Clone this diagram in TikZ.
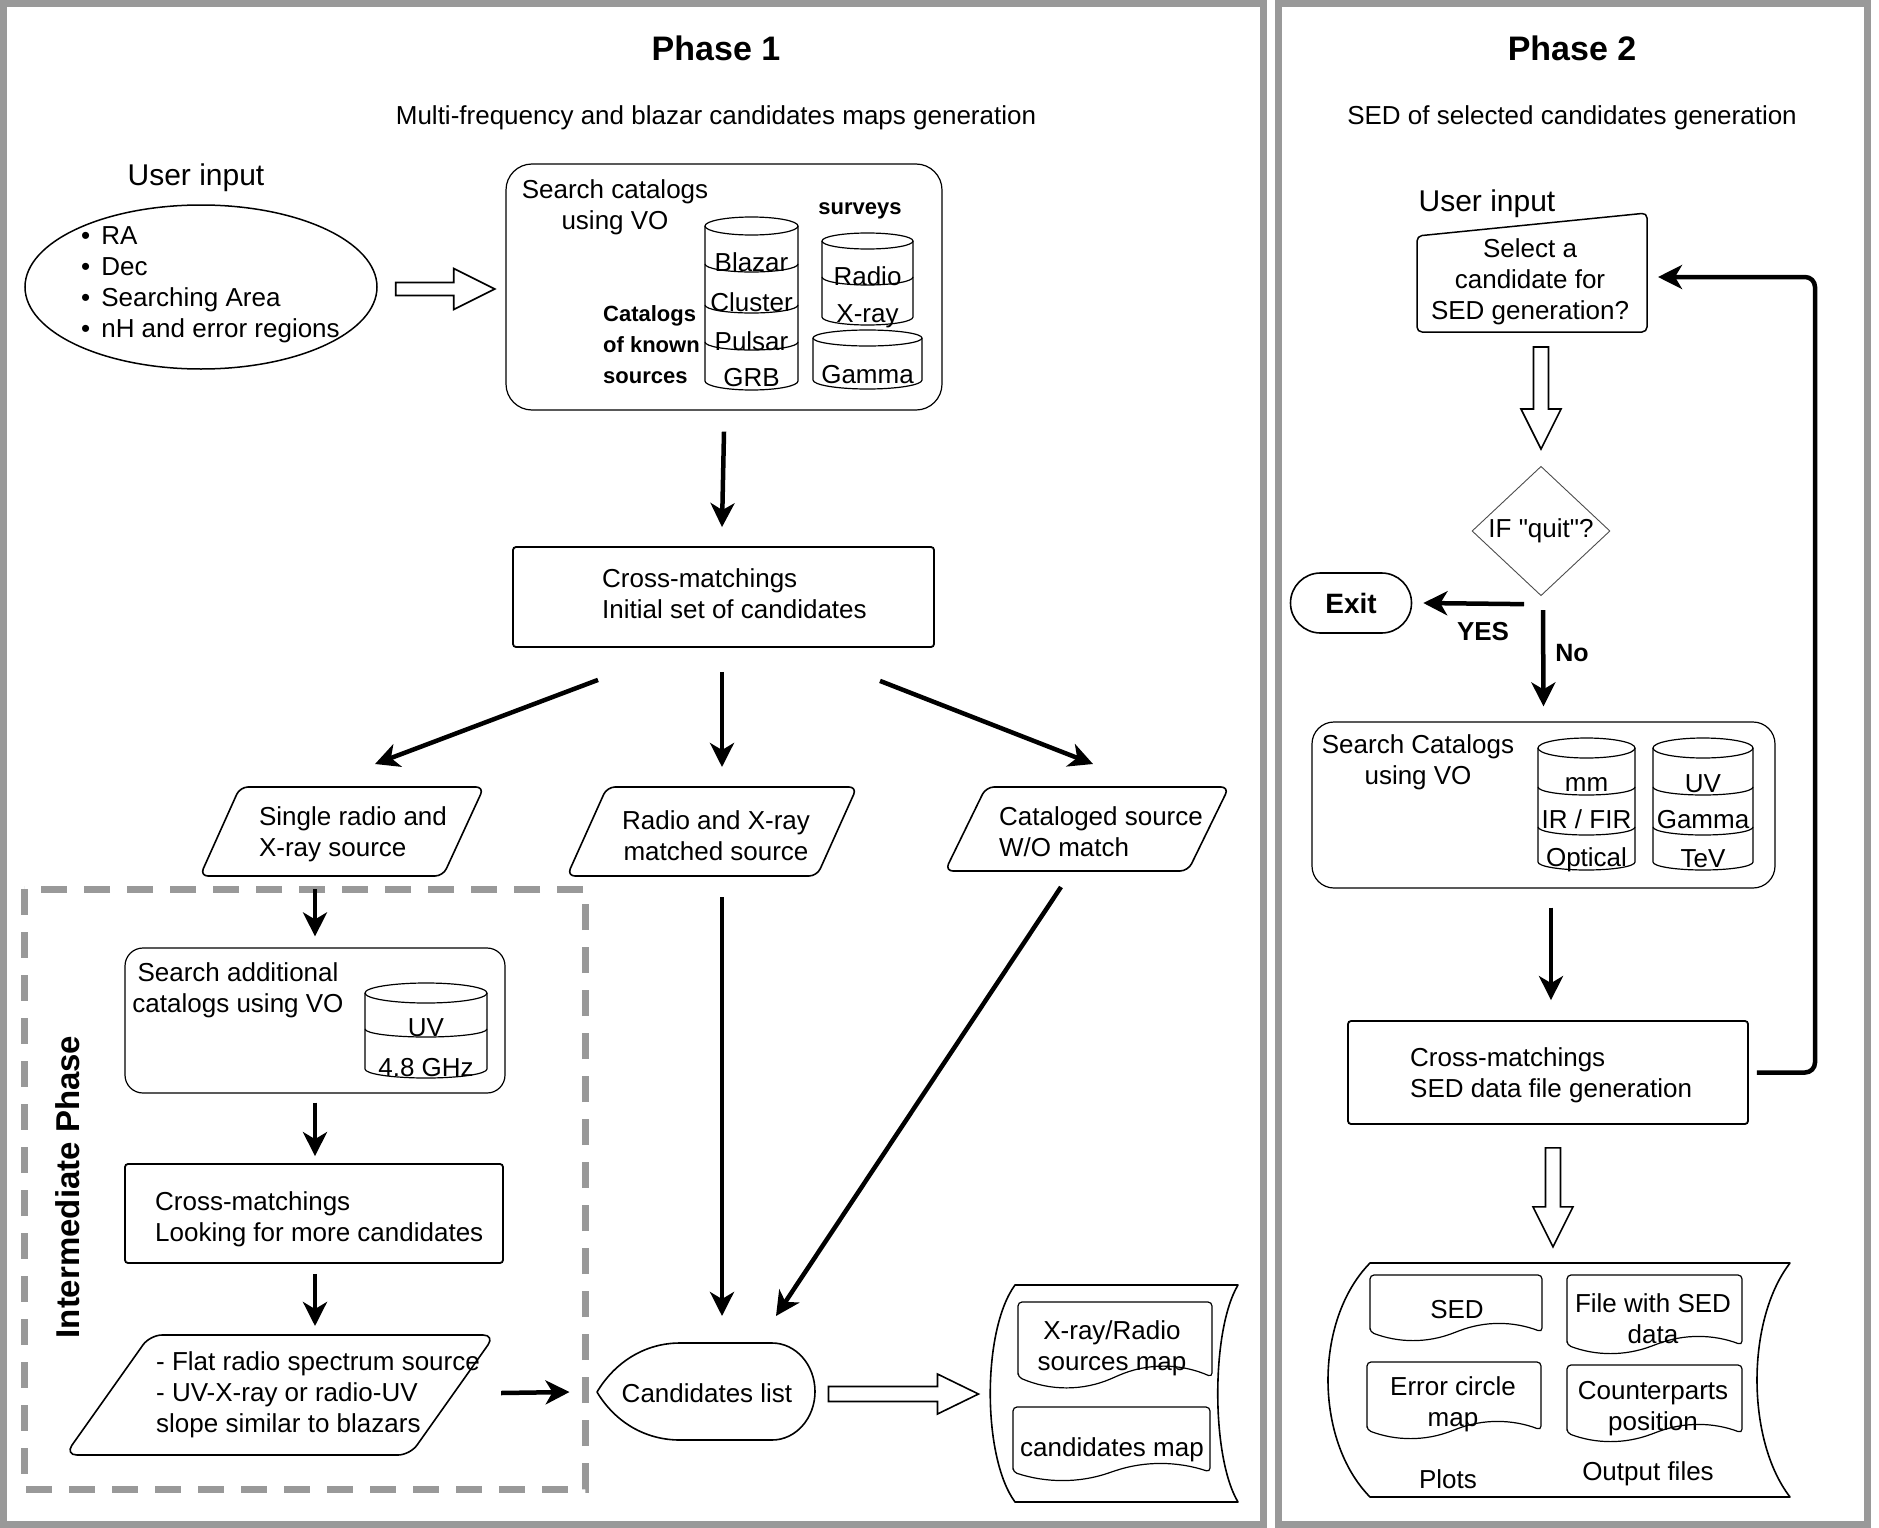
\documentclass[tikz,border=0pt]{standalone}
\usepackage{fontspec}
\setmainfont{Liberation Sans}
\usetikzlibrary{arrows.meta,shapes.geometric,positioning}

\begin{document}
\begin{tikzpicture}[x=1pt, y=-1pt,
    every node/.style={inner sep=0pt, font=\fontsize{26}{31}\selectfont},
    phaseframe/.style={draw=black!40, line width=7pt},
    interframe/.style={draw=black!40, line width=7pt, dash pattern=on 26pt off 17pt},
    block/.style={rectangle, draw, line width=1.8pt, rounded corners=3pt},
    roundblock/.style={rectangle, draw, line width=1.2pt, rounded corners=26pt},
    shapeline/.style={draw, line width=1.6pt, line join=round},
    cyl/.style={draw, line width=1.2pt},
    doc/.style={draw, line width=1.2pt, rounded corners=4pt},
    hollow/.style={draw, line width=1.6pt, line join=miter},
    arrow/.style={-{Stealth[length=24pt, width=24pt, inset=7pt]}, line width=4.5pt},
    titletext/.style={font=\bfseries\fontsize{34}{40}\selectfont},
    boldtext/.style={font=\bfseries\fontsize{22}{31}\selectfont},
    bigtext/.style={font=\fontsize{30}{36}\selectfont}
]
\useasboundingbox (0,0) rectangle (1879,1528);

% Frames
\draw[phaseframe] (3.5,3.5) rectangle (1263.5,1524.5);
\draw[phaseframe] (1278,3.5) rectangle (1867.5,1524.5);

% Phase 1
\node[titletext] (ph1) at (716,48) {Phase 1};
\node (ph1sub) at (716,118) {Multi-frequency and blazar candidates maps generation};

% User input
\node[bigtext] (uinlabel) at (196,178) {User input};
\node[ellipse, draw, line width=1.5pt, minimum width=352pt, minimum height=164pt] (uin) at (201,287) {};
\node[anchor=west, align=left] (uinitems) at (81,285)
  {\textbullet\hspace{11pt}RA\\ \textbullet\hspace{11pt}Dec\\ \textbullet\hspace{11pt}Searching Area\\ \textbullet\hspace{11pt}nH and error regions};
\draw[hollow] ([shift={(18,-4.5)}]uin.east) -- ++(58,0) -- ++(0,-14) -- ++(41,20.5) -- ++(-41,20.5) -- ++(0,-14) -- ++(-58,0) -- cycle;

% Search catalogs
\node[roundblock, minimum width=436pt, minimum height=246pt] (search) at (724,287) {};
\node[align=center] (searchtxt) at (615,207) {Search catalogs\\using VO};
\node[boldtext] (surveys) at (860,211) {surveys};
\node[boldtext, anchor=west, align=left] (known) at (603,345) {Catalogs\\of known\\sources};

\draw[cyl] (705,226) -- (705,381) arc[start angle=180, end angle=360, x radius=46.5pt, y radius=9pt] -- (798,226);
\draw[cyl] (751.5,226) ellipse[x radius=46.5pt, y radius=9pt];
\draw[cyl] (705,264) arc[start angle=180, end angle=360, x radius=46.5pt, y radius=8pt];
\draw[cyl] (705,305) arc[start angle=180, end angle=360, x radius=46.5pt, y radius=8pt];
\draw[cyl] (705,342) arc[start angle=180, end angle=360, x radius=46.5pt, y radius=8pt];
\node (blazar) at (751.5,262) {Blazar};
\node (cluster) at (751.5,302) {Cluster};
\node (pulsar) at (751.5,341) {Pulsar};
\node (grb) at (751.5,378) {GRB};

\draw[cyl] (822,241) -- (822,317) arc[start angle=180, end angle=360, x radius=45.5pt, y radius=8pt] -- (913,241);
\draw[cyl] (867.5,241) ellipse[x radius=45.5pt, y radius=8pt];
\draw[cyl] (822,277) arc[start angle=180, end angle=360, x radius=45.5pt, y radius=8pt];
\node (radio) at (867.5,276) {Radio};
\node (xray) at (867.5,316) {X-ray};

\draw[cyl] (813,338) -- (813,380) arc[start angle=180, end angle=360, x radius=54.5pt, y radius=9pt] -- (922,338);
\draw[cyl] (867.5,338) ellipse[x radius=54.5pt, y radius=8pt];
\node (gamma) at (867.5,375) {Gamma};

% Cross-matchings
\node[block, minimum width=421pt, minimum height=100pt] (cm) at (723.5,597) {};
\node[anchor=west, align=left] (cmtxt) at (602,594) {Cross-matchings\\Initial set of candidates};
\draw[arrow] ([shift={(0,21)}]search.south) -- ([shift={(-1.5,-19)}]cm.north);

% Source classes
\draw[shapeline, rounded corners=8pt] (240,787) -- (484,787) -- (443,876) -- (200,876) -- cycle;
\node[align=left] (p1) at (353,834) {Single radio and\\X-ray source};
\draw[shapeline, rounded corners=8pt] (607,787) -- (857,787) -- (817,876) -- (567,876) -- cycle;
\node[align=center] (p2) at (716,836) {Radio and X-ray\\matched source};
\draw[shapeline, rounded corners=8pt] (986,787) -- (1229,787) -- (1188,871) -- (945,871) -- cycle;
\node[align=left] (p3) at (1101,832) {Cataloged source\\W/O match};

\draw[arrow] ([shift={(-125.5,32)}]cm.south) -- ([shift={(22,-70)}]p1.center);
\draw[arrow] ([shift={(-1.5,24)}]cm.south) -- ([shift={(6,-69)}]p2.center);
\draw[arrow] ([shift={(156.5,33)}]cm.south) -- ([shift={(-8,-68)}]p3.center);

% Intermediate phase
\draw[interframe] (24,889) rectangle (585,1489);
\node[font=\bfseries\fontsize{33}{40}\selectfont, rotate=90] (interlabel) at (68,1187) {Intermediate Phase};

\node[roundblock, rounded corners=18pt, minimum width=380pt, minimum height=145pt] (addsearch) at (315,1020.5) {};
\node[align=center] (addtxt) at (238,990) {Search additional\\catalogs using VO};
\draw[cyl] (365,993) -- (365,1069) arc[start angle=180, end angle=360, x radius=61pt, y radius=9pt] -- (487,993);
\draw[cyl] (426,993) ellipse[x radius=61pt, y radius=10pt];
\draw[cyl] (365,1029) arc[start angle=180, end angle=360, x radius=61pt, y radius=8pt];
\node (uvone) at (426,1028) {UV};
\node (ghz) at (426,1068) {4.8 GHz};

\node[block, minimum width=378pt, minimum height=99pt] (cm2) at (314,1213.5) {};
\node[anchor=west, align=left] (cmtwotxt) at (155,1219) {Cross-matchings\\Looking for more candidates};

\draw[shapeline, rounded corners=12pt] (150,1335) -- (495,1335) -- (410,1455) -- (65,1455) -- cycle;
\node[align=left] (p4) at (318,1395) {- Flat radio spectrum source\\- UV-X-ray or radio-UV\\slope similar to blazars};

\draw[arrow] ([shift={(-38,55)}]p1.center) -- ([shift={(0,-11)}]addsearch.north);
\draw[arrow] ([shift={(0,9)}]addsearch.south) -- ([shift={(1,-7)}]cm2.north);
\draw[arrow] ([shift={(1,10)}]cm2.south) -- ([shift={(-3,-69)}]p4.center);

% Candidates list
\node (cands) at (707,1393) {Candidates list};
\draw[shapeline] (597,1392) .. controls (615,1362) and (645,1343) .. (680,1343) -- (772,1343)
  arc[start angle=90, end angle=-90, x radius=43pt, y radius=48.5pt] -- (680,1440)
  .. controls (645,1440) and (615,1422) .. (597,1392) -- cycle;

\draw[arrow] ([shift={(21,-2)}]p4.east) -- ([shift={(-52,-1)}]cands.west);
\draw[arrow] ([shift={(6,61)}]p2.center) -- ([shift={(15,-77)}]cands.center);
\draw[arrow] ([shift={(-40,55)}]p3.center) -- ([shift={(69,-77)}]cands.center);

\draw[hollow] ([shift={(36,-6.5)}]cands.east) -- ++(109,0) -- ++(0,-12.5) -- ++(41,20) -- ++(-41,20) -- ++(0,-12.5) -- ++(-109,0) -- cycle;

% Maps
\draw[shapeline] (1015,1285) -- (1238,1285) .. controls (1211,1330) and (1211,1457) .. (1238,1502)
  -- (1015,1502) .. controls (982,1457) and (982,1330) .. (1015,1285) -- cycle;
\draw[doc] (1018,1377) -- (1018,1302) -- (1212,1302) -- (1212,1377) .. controls (1180,1363) and (1147,1363) .. (1115,1377)
  .. controls (1083,1391) and (1050,1391) .. (1018,1377) -- cycle;
\node[align=center] (xrmap) at (1112,1348) {X-ray/Radio\\sources map};
\draw[doc] (1013,1472) -- (1013,1407) -- (1210,1407) -- (1210,1472) .. controls (1177,1461) and (1144,1461) .. (1111.5,1472)
  .. controls (1079,1483) and (1046,1483) .. (1013,1472) -- cycle;
\node (candmap) at (1112,1450) {candidates map};

% Phase 2
\node[titletext] (ph2) at (1572,48) {Phase 2};
\node (ph2sub) at (1572,118) {SED of selected candidates generation};

\node[bigtext] (uintwolabel) at (1487,204) {User input};
\draw[shapeline, line width=1.5pt, rounded corners=5pt] (1417,236) -- (1647,213) -- (1647,332) -- (1417,332) -- cycle;
\node[align=center] (select) at (1530,282) {Select a\\candidate for\\SED generation?};
\coordinate (selectE) at (1647,277);
\draw[hollow] ([shift={(3.5,65)}]select.center) -- ++(15,0) -- ++(0,62) -- ++(12.5,0) -- ++(-20,40) -- ++(-20,-40) -- ++(12.5,0) -- cycle;

\node[diamond, draw=black!70, line width=0.9pt, minimum width=138pt, minimum height=128pt] (quit) at (1541,531) {IF \textquotedbl quit\textquotedbl ?};
\node[draw, line width=1.6pt, rounded corners=30pt, minimum width=121pt, minimum height=60pt,
  font=\bfseries\fontsize{28}{34}\selectfont] (exit) at (1351,603) {Exit};
\draw[arrow] ([shift={(-17,8)}]quit.south) -- ([shift={(11,0)}]exit.east);
\node[font=\bfseries\fontsize{26}{31}\selectfont] (yes) at (1483,632) {YES};

\node[roundblock, rounded corners=22pt, minimum width=463pt, minimum height=166pt] (search2) at (1543.5,805) {};
\node[align=center] (searchtwotxt) at (1418,762) {Search Catalogs\\using VO};
\draw[arrow] ([shift={(2,14)}]quit.south) -- ([shift={(0,-15)}]search2.north);
\node[font=\bfseries\fontsize{25}{31}\selectfont] (no) at (1572,653) {No};

\draw[cyl] (1538,748) -- (1538,862) arc[start angle=180, end angle=360, x radius=48.5pt, y radius=8pt] -- (1635,748);
\draw[cyl] (1586.5,748) ellipse[x radius=48.5pt, y radius=10pt];
\draw[cyl] (1538,787) arc[start angle=180, end angle=360, x radius=48.5pt, y radius=8pt];
\draw[cyl] (1538,827) arc[start angle=180, end angle=360, x radius=48.5pt, y radius=8pt];
\node (mm) at (1586.5,784) {mm};
\node (irfir) at (1586.5,819) {IR / FIR};
\node (optical) at (1586.5,860) {Optical};

\draw[cyl] (1653,748) -- (1653,862) arc[start angle=180, end angle=360, x radius=50pt, y radius=8pt] -- (1753,748);
\draw[cyl] (1703,748) ellipse[x radius=50pt, y radius=10pt];
\draw[cyl] (1653,787) arc[start angle=180, end angle=360, x radius=50pt, y radius=8pt];
\draw[cyl] (1653,827) arc[start angle=180, end angle=360, x radius=50pt, y radius=8pt];
\node (uvtwo) at (1703,784) {UV};
\node (gammatwo) at (1703,820) {Gamma};
\node (tev) at (1703,859) {TeV};

\node[block, minimum width=400pt, minimum height=103pt] (cm3) at (1548,1072.5) {};
\node[anchor=west, align=left] (cmthreetxt) at (1410,1075) {Cross-matchings\\SED data file generation};
\draw[arrow] ([shift={(7.5,19)}]search2.south) -- ([shift={(3,-20)}]cm3.north);
\draw[arrow, rounded corners=10pt] ([shift={(8,0)}]cm3.east) -| ([shift={(168,0)}]selectE) -- ([shift={(11,0)}]selectE);

\draw[hollow] ([shift={(-2.5,23)}]cm3.south) -- ++(15,0) -- ++(0,59) -- ++(12.5,0) -- ++(-20,40) -- ++(-20,-40) -- ++(12.5,0) -- cycle;

% Output
\draw[shapeline] (1370,1263) -- (1790,1263) .. controls (1746,1320) and (1746,1440) .. (1790,1497)
  -- (1370,1497) .. controls (1314,1440) and (1314,1320) .. (1370,1263) -- cycle;
\draw[doc] (1370,1332) -- (1370,1275) -- (1542,1275) -- (1542,1332) .. controls (1513,1321) and (1485,1321) .. (1456,1332)
  .. controls (1427,1343) and (1399,1343) .. (1370,1332) -- cycle;
\node (sed) at (1457,1310) {SED};
\draw[doc] (1567,1345) -- (1567,1275) -- (1742,1275) -- (1742,1345) .. controls (1713,1334) and (1684,1334) .. (1654.5,1345)
  .. controls (1625,1356) and (1596,1356) .. (1567,1345) -- cycle;
\node[align=center] (sedfile) at (1653,1319) {File with SED\\data};
\draw[doc] (1367,1430) -- (1367,1362) -- (1541,1362) -- (1541,1430) .. controls (1512,1419) and (1483,1419) .. (1454,1430)
  .. controls (1425,1441) and (1396,1441) .. (1367,1430) -- cycle;
\node[align=center] (errmap) at (1453,1404) {Error circle\\map};
\draw[doc] (1567,1433) -- (1567,1365) -- (1742,1365) -- (1742,1433) .. controls (1713,1422) and (1684,1422) .. (1654.5,1433)
  .. controls (1625,1444) and (1596,1444) .. (1567,1433) -- cycle;
\node[align=center] (counter) at (1653,1409) {Counterparts\\position};
\node (plots) at (1448,1479) {Plots};
\node (outfiles) at (1648,1474) {Output files};

\end{tikzpicture}
\end{document}
